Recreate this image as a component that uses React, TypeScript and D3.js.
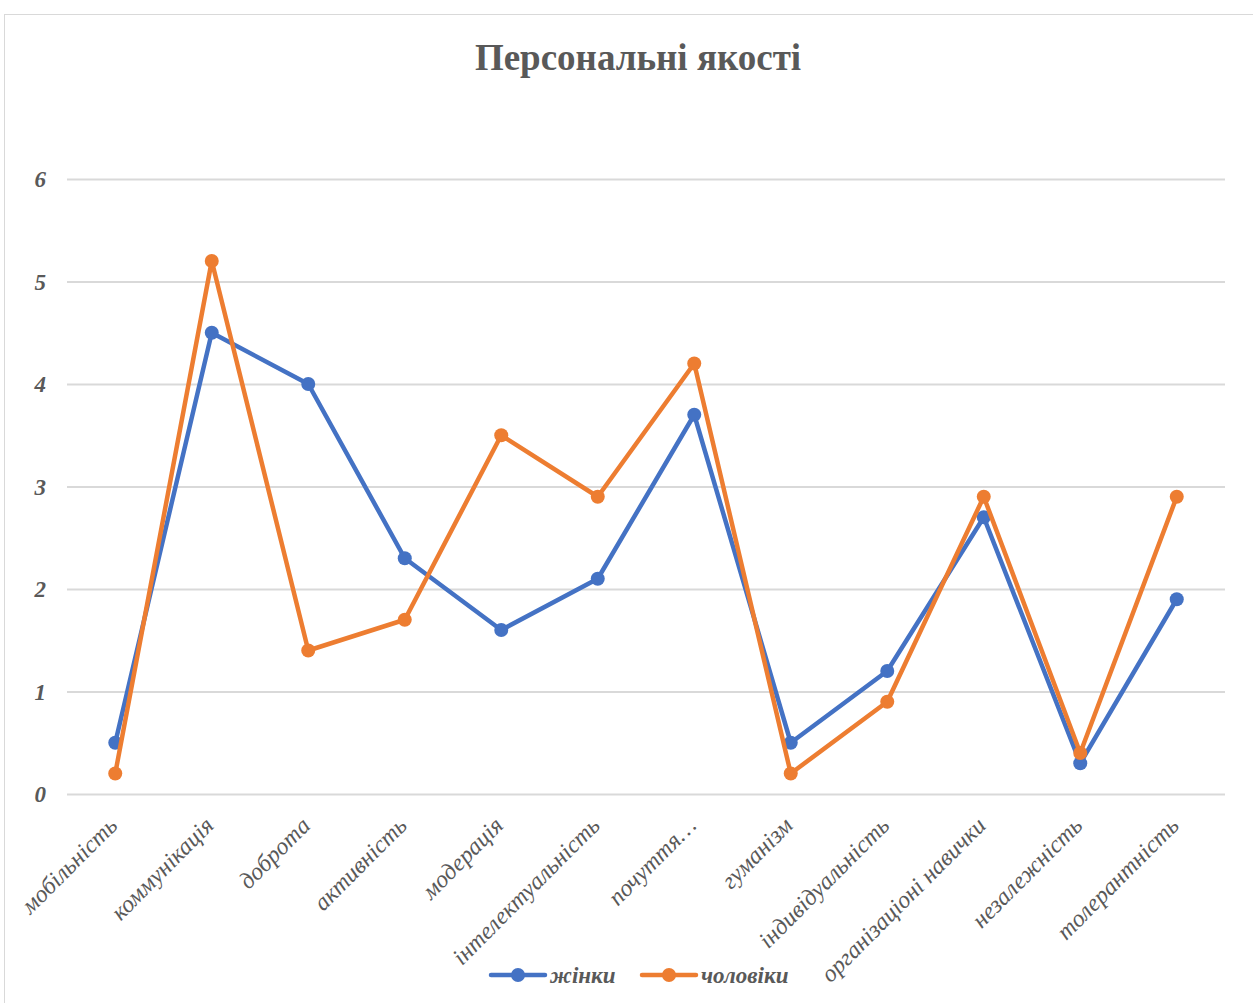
import React, { useEffect, useRef } from 'react'
import { axisBottom, axisLeft, line, scaleLinear, scalePoint, select } from 'd3'

const categories = [
  'мобільність',
  'коммунікація',
  'доброта',
  'активність',
  'модерація',
  'інтелектуальність',
  'почуття…',
  'гуманізм',
  'індивідуальність',
  'організаціоні навички',
  'незалежність',
  'толерантність',
]
const women = [0.5, 4.5, 4.0, 2.3, 1.6, 2.1, 3.7, 0.5, 1.2, 2.7, 0.3, 1.9]
const men = [0.2, 5.2, 1.4, 1.7, 3.5, 2.9, 4.2, 0.2, 0.9, 2.9, 0.4, 2.9]
const yTicks = [0, 1, 2, 3, 4, 5, 6]

const seriesList = [
  { name: 'жінки', values: women, color: '#4472C4' },
  { name: 'чоловіки', values: men, color: '#ED7D31' },
]

const FONT = '"Liberation Serif", "Times New Roman", serif'
const TEXT = '#595959'

const App = () => {
  const ref = useRef<SVGSVGElement>(null)

  useEffect(() => {
    main()
  }, [])

  const main = () => {
    const svg = select(ref.current),
      width = 1253,
      height = 1003
    svg.selectAll('*').remove()
    svg.attr('width', width).attr('height', height)

    svg.append('rect')
      .attr('x', 4.5).attr('y', 14.5)
      .attr('width', 1260).attr('height', 1000)
      .attr('fill', '#fff').attr('stroke', '#d9d9d9')

    svg.append('text')
      .attr('x', 638).attr('y', 70)
      .attr('text-anchor', 'middle')
      .attr('font-family', FONT).attr('font-weight', 'bold')
      .attr('font-size', 37).attr('fill', TEXT)
      .text('Персональні якості')

    const left = 67, right = 1225, top = 179, bottom = 794
    const step = (right - left) / categories.length
    const xScale = scalePoint().domain(categories).range([left + step / 2, right - step / 2])
    const yScale = scaleLinear().domain([0, 6]).range([bottom, top])

    // grid
    const grid = svg.append('g')
      .attr('transform', `translate(${left}, 0)`)
      .call(axisLeft(yScale).tickValues(yTicks).tickSize(-(right - left)).tickFormat(() => ''))
    grid.select('.domain').remove()
    grid.selectAll('line').attr('stroke', '#d9d9d9').attr('stroke-width', 2)

    // y labels
    svg.append('g')
      .selectAll('text')
      .data(yTicks)
      .enter()
      .append('text')
      .attr('x', 46)
      .attr('y', (d) => yScale(d))
      .attr('dy', '0.35em')
      .attr('text-anchor', 'end')
      .attr('font-family', FONT).attr('font-style', 'italic').attr('font-weight', 'bold')
      .attr('font-size', 23).attr('fill', TEXT)
      .text((d) => d)

    // x labels
    const xg = svg.append('g')
      .attr('transform', `translate(0, ${bottom})`)
      .call(axisBottom(xScale).tickSize(0))
    xg.select('.domain').remove()
    xg.selectAll('text')
      .attr('font-family', FONT).attr('font-style', 'italic')
      .attr('font-size', 24).attr('fill', TEXT)
      .attr('text-anchor', 'end')
      .attr('dy', '0.35em')
      .attr('transform', () => `translate(-3, 27) rotate(-45)`)
      .attr('x', 0).attr('y', 0)

    const lineGen = line<number>()
      .x((_, i) => xScale(categories[i]) as number)
      .y((d) => yScale(d))

    seriesList.forEach((s) => {
      svg.append('path')
        .datum(s.values)
        .attr('d', lineGen)
        .attr('fill', 'none')
        .attr('stroke', s.color)
        .attr('stroke-width', 4.5)
        .attr('stroke-linejoin', 'round')
        .attr('stroke-linecap', 'round')
      svg.append('g')
        .selectAll('circle')
        .data(s.values)
        .enter()
        .append('circle')
        .attr('cx', (_, i) => xScale(categories[i]) as number)
        .attr('cy', (d) => yScale(d))
        .attr('r', 7)
        .attr('fill', s.color)
    })

    // legend
    const legendX = [491, 642]
    seriesList.forEach((s, i) => {
      const g = svg.append('g').attr('transform', `translate(${legendX[i]}, 975)`)
      g.append('line')
        .attr('x1', 0).attr('x2', 54).attr('y1', 0).attr('y2', 0)
        .attr('stroke', s.color).attr('stroke-width', 4.5).attr('stroke-linecap', 'round')
      g.append('circle').attr('cx', 27).attr('cy', 0).attr('r', 7).attr('fill', s.color)
      g.append('text')
        .attr('x', 59).attr('y', 0).attr('dy', '0.35em')
        .attr('font-family', FONT).attr('font-style', 'italic').attr('font-weight', 'bold')
        .attr('font-size', 23).attr('fill', TEXT)
        .text(s.name)
    })
  }

  return (
    <div style={{ position: 'absolute', left: 0, top: 0 }}>
      <svg ref={ref} style={{ display: 'block' }}></svg>
    </div>
  )
}

export default App
